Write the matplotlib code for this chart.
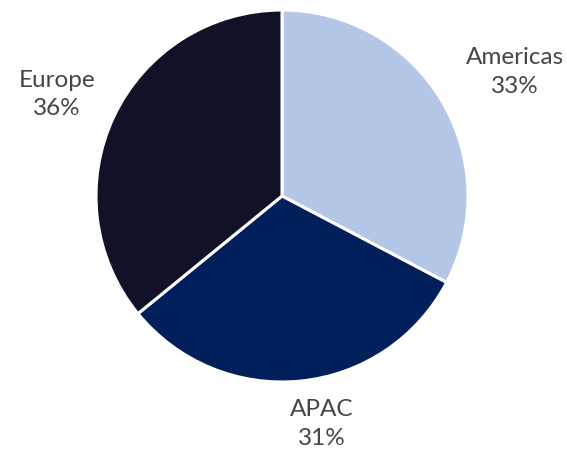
import matplotlib
matplotlib.use("Agg")
import matplotlib.pyplot as plt

regions = ["Americas", "APAC", "Europe"]
shares = [32.7, 31.4, 35.9]
colors = ["#B4C7E7", "#001F5B", "#111128"]
label_pos = [(1.25, 0.665), (0.215, -1.225), (-1.21, 0.545)]

fig = plt.figure(figsize=(5.67, 4.49), dpi=100)
cx, cy, r = 282, 196, 186
ax = fig.add_axes([(cx - r) / 567, (449 - cy - r) / 449, 2 * r / 567, 2 * r / 449])

ax.pie(shares, colors=colors, startangle=90, counterclock=False, radius=1,
       wedgeprops=dict(edgecolor="white", linewidth=2.2))
ax.set_xlim(-1, 1)
ax.set_ylim(-1, 1)
ax.set_aspect("equal")
ax.axis("off")

for name, val, (x, y) in zip(regions, shares, label_pos):
    ax.text(x, y, f"{name}\n{round(val)}%", ha="center", va="center", fontsize=17.5,
            color="#454545", family="Lato", linespacing=1.45, clip_on=False)

fig.savefig("out.png", dpi=100)
